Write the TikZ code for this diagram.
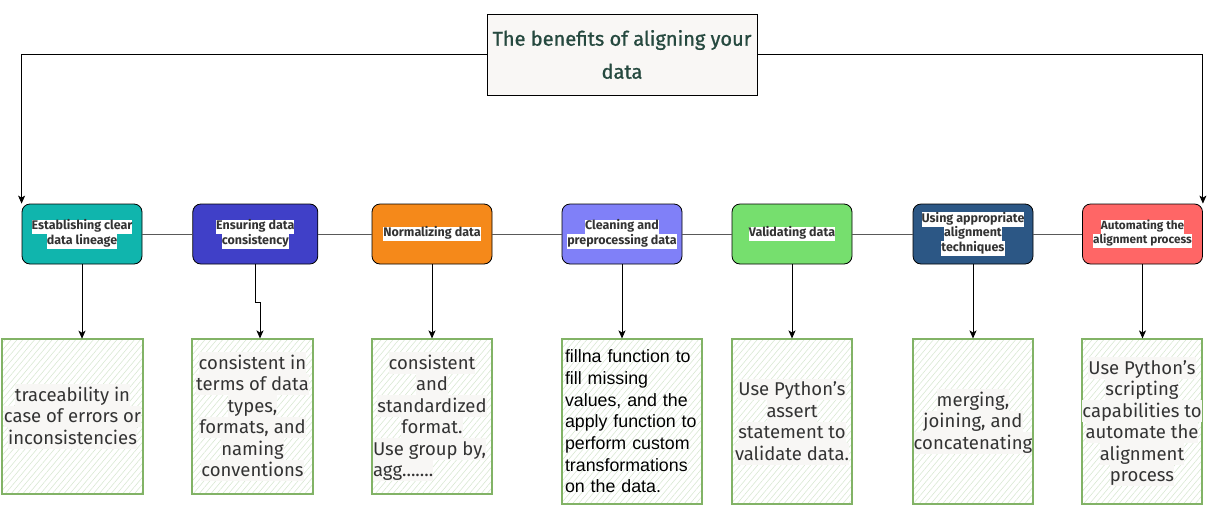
\documentclass[tikz,border=0pt]{standalone}
\usepackage{fontspec}
\setmainfont{Fira Sans}
\newfontfamily\arialfont{Liberation Sans}
\newfontfamily\titlefont{Fira Sans}[FakeBold=1]
\usetikzlibrary{arrows.meta,patterns.meta}

\definecolor{titlefill}{HTML}{F9F7F5}
\definecolor{titletext}{HTML}{26493F}
\definecolor{lblbg}{HTML}{F8F7F5}
\definecolor{ink}{HTML}{333333}
\definecolor{sketchline}{HTML}{82B366}
\definecolor{hatchgreen}{HTML}{D9E8D3}
\definecolor{cTeal}{HTML}{10B5AD}
\definecolor{cBlue}{HTML}{4040C8}
\definecolor{cOrange}{HTML}{F5891A}
\definecolor{cPeri}{HTML}{8080F8}
\definecolor{cGreen}{HTML}{76DF6E}
\definecolor{cNavy}{HTML}{2C5785}
\definecolor{cRed}{HTML}{FF6666}

\setlength{\fboxsep}{0pt}
% highlighted text lines (note lines use a taller strut so the block sits a little lower)
\newcommand\hl[1]{\colorbox{lblbg}{\rule[-4.5pt]{0pt}{21.5pt}#1}}
\newcommand\hw[1]{\colorbox{white}{\strut #1}}

\begin{document}
\begin{tikzpicture}[x=1pt,y=-1pt,
  titlebox/.style={draw=black, line width=0.8pt, fill=titlefill, inner sep=0pt,
    minimum width=270pt, minimum height=81pt, align=center, text=titletext,
    font=\titlefont\fontsize{20}{33}\selectfont},
  topbox/.style={draw=black, line width=0.8pt, rounded corners=8pt, inner sep=0pt,
    minimum width=120pt, minimum height=60pt, align=center, text=ink,
    font=\bfseries\fontsize{12.5}{14.5}\selectfont},
  notebox/.style={draw=sketchline, line width=1.1pt, inner sep=0pt,
    pattern={Lines[angle=50,distance=4.5pt,line width=0.6pt]}, pattern color=hatchgreen,
    minimum height=155pt, align=center, text=ink,
    font=\fontsize{18.5}{21.5}\selectfont},
  tallnote/.style={notebox, minimum height=165pt},
  arr/.style={draw=black, line width=0.9pt, -{Stealth[length=8pt,width=7pt,inset=2pt]}},
  link/.style={draw=black!65, line width=0.9pt}
]
\useasboundingbox (0,0) rectangle (1213,507);

% heading
\node[titlebox] (title) at (622,54.5) {\rule[-6pt]{0pt}{20pt}The benefits of aligning your\\data};

% row of topics
\node[topbox, fill=cTeal] (b1) at (82,234) {\hw{Establishing clear}\\\hw{data lineage}};
\node[topbox, fill=cBlue, minimum width=125pt] (b2) at (255.3,234) {\hw{Ensuring data}\\\hw{consistency}};
\node[topbox, fill=cOrange] (b3) at (432,234) {\hw{Normalizing data}};
\node[topbox, fill=cPeri] (b4) at (622,234) {\hw{Cleaning and}\\\hw{preprocessing data}};
\node[topbox, fill=cGreen] (b5) at (792,234) {\hw{Validating data}};
\node[topbox, fill=cNavy] (b6) at (973,234) {\hw{Using appropriate}\\\hw{alignment}\\\hw{techniques}};
\node[topbox, fill=cRed, font=\bfseries\fontsize{11.8}{14}\selectfont] (b7) at (1142.5,234) {\hw{Automating the}\\\hw{alignment process}};

% notes
\node[notebox, minimum width=141pt] (t1) at (72.5,416.5)
  {\hl{traceability in}\\\hl{case of errors or}\\\hl{inconsistencies}};
\node[notebox, minimum width=121pt] (t2) at (252.5,416.5)
  {\hl{consistent in}\\\hl{terms of data}\\\hl{types,}\\\hl{formats, and}\\\hl{naming}\\\hl{conventions}};
\node[notebox, minimum width=120pt, align=left] (t3) at (432,416.5)
  {\makebox[118pt][c]{\hl{consistent}}\\\makebox[118pt][c]{\hl{and}}\\
   \makebox[118pt][c]{\hl{standardized}}\\\makebox[118pt][c]{\hl{format.}}\\
   \makebox[118pt][l]{\hl{Use group by,}}\\\makebox[118pt][l]{\hl{agg.......}}};
\node[tallnote, minimum width=140pt, text width=134pt, align=left, text=black,
  font=\arialfont\fontsize{17.8}{21.7}\selectfont] (t4) at (632,421.5)
  {fillna function to\\fill missing\\values, and the\\apply function to\\perform custom\\transformations\\on the data.};
\node[tallnote, minimum width=120pt] (t5) at (792,421.5)
  {\hl{Use Python's}\\\hl{assert}\\\hl{statement to}\\\hl{validate data.}};
\node[tallnote, minimum width=120pt] (t6) at (973,421.5)
  {\hl{merging,}\\\hl{joining, and}\\\hl{concatenating}};
\node[tallnote, minimum width=120pt] (t7) at (1142,421.5)
  {\hl{Use Python's}\\\hl{scripting}\\\hl{capabilities to}\\\hl{automate the}\\\hl{alignment}\\\hl{process}};

% heading to the two ends of the row
\draw[arr] (title.west) -| (b1.north west);
\draw[arr] (title.east) -| (b7.north east);

% links along the row
\draw[link] (b1.east) -- (b2.west);
\draw[link] (b2.east) -- (b3.west);
\draw[link] (b3.east) -- (b4.west);
\draw[link] (b4.east) -- (b5.west);
\draw[link] (b5.east) -- (b6.west);
\draw[link] (b6.east) -- (b7.west);

% topic to note
\draw[arr] (b1.south) -- (b1.south |- t1.north);
\draw[arr] (b2.south) -- ++(0,38) -| ([xshift=7.5pt]t2.north);
\draw[arr] (b3.south) -- (b3.south |- t3.north);
\draw[arr] (b4.south) -- (b4.south |- t4.north);
\draw[arr] (b5.south) -- (b5.south |- t5.north);
\draw[arr] (b6.south) -- (b6.south |- t6.north);
\draw[arr] (b7.south) -- (b7.south |- t7.north);
\end{tikzpicture}
\end{document}
